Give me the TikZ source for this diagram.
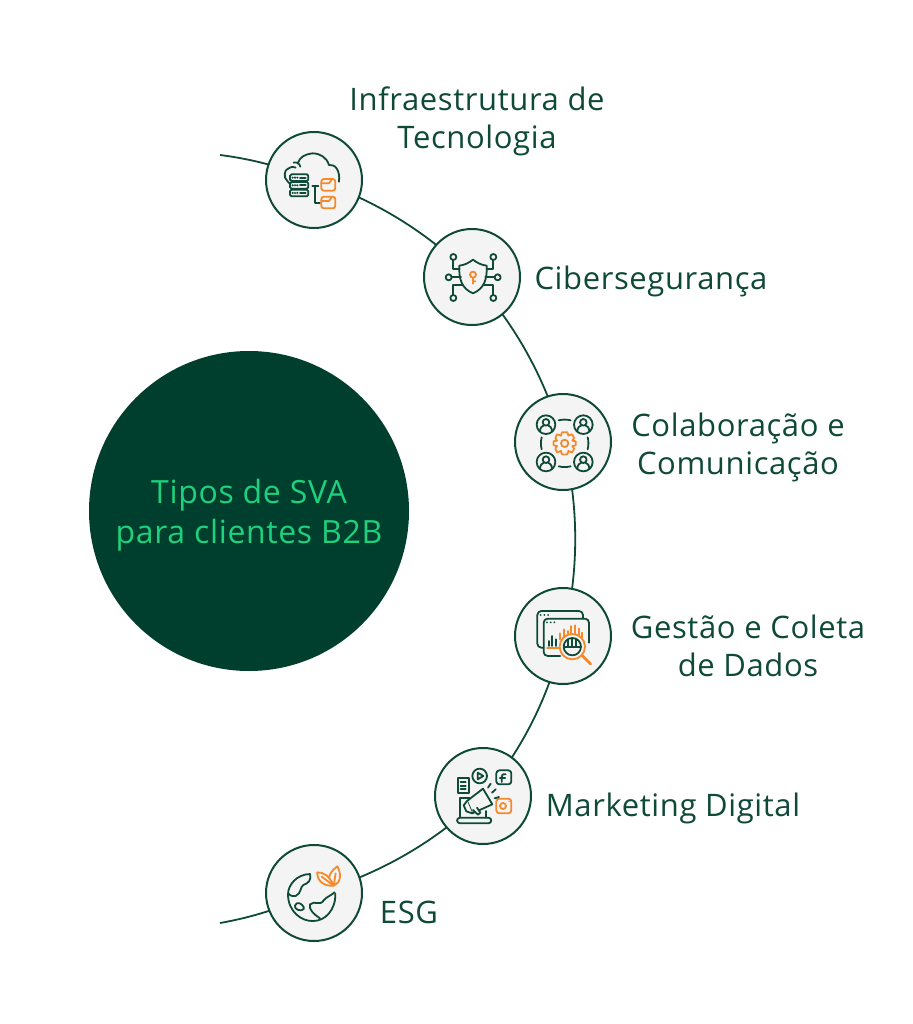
\documentclass[tikz,border=0pt]{standalone}
\usepackage{fontspec}
\usetikzlibrary{backgrounds}
\setmainfont{Open Sans}[LetterSpace=2]
\definecolor{dk}{HTML}{0F4A38}
\definecolor{hub}{HTML}{003F2E}
\definecolor{mint}{HTML}{1FD07C}
\definecolor{org}{HTML}{F58A2C}
\definecolor{pale}{HTML}{F4F4F4}
\tikzset{
 stop/.style={circle,draw=dk,fill=pale,line width=2pt,minimum size=96pt,inner sep=0pt},
 lab/.style={text=dk,font=\fontsize{31}{38}\selectfont,align=center,inner sep=0pt},
 link/.style={draw=dk,line width=1.8pt,looseness=0.86},
 ic/.style={draw=dk,line width=1.8pt,line cap=round,line join=round},
 io/.style={draw=org,line width=1.8pt,line cap=round,line join=round},
}
\begin{document}
\begin{tikzpicture}[x=1pt,y=-1pt]
\useasboundingbox (0,0) rectangle (912,1024);
\node[circle,fill=hub,minimum size=320pt,inner sep=0pt] (hubn) at (249,511) {};
\node[text=mint,font=\fontsize{32}{40}\selectfont,align=center,inner sep=0pt] (hubt) at (249,515) {Tipos de SVA\\para clientes B2B};
\coordinate (s) at (220,155);
\coordinate (t) at (220,923);
\node[stop] (a) at (314,180) {};
\node[stop] (b) at (472,277) {};
\node[stop] (c) at (563,442) {};
\node[stop] (d) at (563,636) {};
\node[stop] (e) at (483,796) {};
\node[stop] (f) at (314,893) {};
\begin{scope}[on background layer]
\fill[white] (0,0) rectangle (912,1024);
\draw[link] (s) to[bend left=7.7] (a.center);
\draw[link] (a.center) to[bend left=14] (b.center);
\draw[link] (b.center) to[bend left=14] (c.center);
\draw[link] (c.center) to[bend left=14.5] (d.center);
\draw[link] (d.center) to[bend left=14] (e.center);
\draw[link] (e.center) to[bend left=14.5] (f.center);
\draw[link] (f.center) to[bend left=7.7] (t);
\end{scope}
\node[lab] (la) at (477,121) {Infraestrutura de\\Tecnologia};
\node[lab] (lb) at (651,281) {Cibersegurança};
\node[lab] (lc) at (738,447) {Colaboração e\\Comunicação};
\node[lab] (ld) at (748,646) {Gestão e Coleta\\de Dados};
\node[lab] (le) at (673,808) {Marketing Digital};
\node[lab] (lf) at (409,912) {ESG};
% icon 1
\begin{scope}[shift={(255,120)},x=0.3333pt,y=-0.3333pt]
\draw[ic] plot[smooth] coordinates {(103,190)(90,172)(92,152)(110,141)(122,143)};
\draw[ic] (128,130) .. controls (135,110) and (150,103) .. (172,100) .. controls (195,100) and (215,112) .. (222,135) .. controls (240,132) and (256,150) .. (252,185);
\draw[ic] (116,128) .. controls (125,125) and (133,130) .. (136,140);
\foreach \y in {163,186,209}{
 \draw[ic,rounded corners=1.5pt] (105,\y) rectangle +(55,20);
 \foreach \x in {113,120,127}{\fill[dk] (\x,\y+10) circle (3.5);}
 \draw[ic] (135,\y+10) -- (152,\y+10);
}
\draw[ic] (172,197) -- (190,197) (180,197) -- (180,250) -- (195,250);
\draw[io,rounded corners=2.5pt] (199,177) rectangle (241,212);
\draw[io] (199,190) -- (222,190) -- (230,179);
\draw[io,rounded corners=2.5pt] (199,230) rectangle (241,265);
\draw[io] (199,243) -- (222,243) -- (230,232);
\end{scope}
% icon 2
\begin{scope}[shift={(412,218)},x=0.3333pt,y=-0.3333pt]
\draw[ic] (183,125) .. controls (170,135) and (158,141) .. (142,143) .. controls (140,185) and (150,212) .. (183,226) .. controls (216,212) and (226,185) .. (224,143) .. controls (208,141) and (196,135) .. (183,125) -- cycle;
\foreach \p in {(124,117),(244,117),(110,178),(257,178),(124,240),(244,240)}{\draw[ic] \p circle (9);}
\draw[ic] (124,126) -- (124,152) -- (143,152) (244,126) -- (244,152) -- (224,152);
\draw[ic] (119,178) -- (147,178) (248,178) -- (220,178);
\draw[ic] (124,231) -- (124,200) -- (152,200) (244,231) -- (244,200) -- (215,200);
\draw[io] (183,170) circle (9) (183,179) -- (183,197) (183,190) -- (190,190);
\end{scope}
% icon 3
\begin{scope}[shift={(503,383)},x=0.3333pt,y=-0.3333pt]
\foreach \u/\v in {129/125,241/125,129/237,241/237}{
 \draw[ic] (\u,\v) circle (28);
 \draw[ic] (\u,\v-7) circle (10);
 \draw[ic] (\u-18,\v+20) .. controls (\u-18,\v+8) and (\u-10,\v+3) .. (\u-6,\v+2) (\u+18,\v+20) .. controls (\u+18,\v+8) and (\u+10,\v+3) .. (\u+6,\v+2);
}
\draw[ic] (167,112) .. controls (180,109) and (190,109) .. (203,112) (167,250) .. controls (180,253) and (190,253) .. (203,250) (116,163) .. controls (113,175) and (113,187) .. (116,199) (254,163) .. controls (257,175) and (257,187) .. (254,199);
\draw[io] (185,181) circle (11);
\draw[io] plot[smooth cycle,tension=0.25] coordinates {(177,148)(193,148)(196,158)(207,154)(213,165)(208,173)(218,175)(218,187)(208,189)(213,197)(207,208)(196,204)(193,214)(177,214)(174,204)(163,208)(157,197)(162,189)(152,187)(152,175)(162,173)(157,165)(163,154)(174,158)};
\end{scope}
% icon 4
\begin{scope}[shift={(503,576)},x=0.3333pt,y=-0.3333pt]
\draw[ic,rounded corners=4pt] (122,215) -- (103,215) -- (103,105) -- (240,105) -- (240,128);
\draw[ic,rounded corners=4pt] (172,240) -- (122,240) -- (122,128) -- (258,128) -- (258,200);
\foreach \x in {113,124,135}{\fill[dk] (\x,117) circle (3);}
\foreach \x in {132,143,154}{\fill[dk] (\x,139) circle (3);}
\draw[ic] (137,195) -- (137,210) (148,180) -- (148,210) (160,190) -- (160,210);
\draw[io] (132,216) -- (170,216);
\foreach \x/\y in {172/172,183/160,194/165,205/150,216/148,227/158,238/170}{\draw[io] (\x,\y) -- (\x,190);}
\draw[io,fill=pale] (208,212) circle (38);
\draw[ic] (208,212) circle (26);
\draw[ic] (183,212) -- (233,212) (196,190) -- (196,212) (208,187) -- (208,212) (220,190) -- (220,212);
\draw[io,line width=2.8pt] (237,238) -- (263,264);
\end{scope}
% icon 5
\begin{scope}[shift={(423,736)},x=0.3333pt,y=-0.3333pt]
\draw[ic] (104,127) rectangle (137,172);
\draw[ic] (113,138) -- (128,138) (113,149) -- (128,149) (113,160) -- (128,160);
\draw[ic] (170,120) circle (22);
\draw[ic] (164,110) -- (164,130) -- (181,120) -- cycle;
\draw[ic,rounded corners=3pt] (220,103) rectangle (265,145);
\draw[ic] (248,115) .. controls (238,113) and (236,118) .. (236,124) -- (236,138) (230,126) -- (247,126);
\draw[io,rounded corners=3pt] (220,188) rectangle (265,232);
\draw[io] (240,210) circle (9);
\fill[org] (258,196) circle (2.5);
\draw[ic] (140,185) -- (112,185) -- (112,245) (190,225) -- (190,245);
\draw[ic,rounded corners=3pt] (102,245) rectangle (205,262);
\draw[ic,fill=pale] (132,195) -- (180,158) -- (208,205) -- (148,232) -- cycle;
\draw[ic,fill=pale] (132,195) -- (122,208) -- (130,226) -- (148,232);
\draw[ic,fill=pale] (150,222) -- (165,236) -- (172,230) -- (162,215);
\draw[ic] (195,155) -- (203,143) (207,170) -- (218,160) (215,187) -- (228,183);
\end{scope}
% icon 6
\begin{scope}[shift={(255,835)},x=0.3333pt,y=-0.3333pt]
\draw[ic] (165,117) .. controls (125,118) and (98,150) .. (99,180) .. controls (100,230) and (140,260) .. (175,258) .. controls (210,258) and (243,225) .. (241,175);
\draw[ic] (165,117) .. controls (170,135) and (160,145) .. (145,150) .. controls (135,155) and (140,175) .. (122,183) .. controls (110,185) and (103,180) .. (99,175);
\draw[ic] (125,205) .. controls (135,200) and (150,215) .. (146,222) .. controls (140,232) and (115,222) .. (120,212) -- cycle;
\draw[ic] (195,250) .. controls (180,240) and (160,225) .. (165,208) .. controls (180,195) and (195,215) .. (207,195) .. controls (215,185) and (232,180) .. (238,172);
\draw[io] (236,152) .. controls (222,120) and (205,112) .. (187,112) .. controls (185,135) and (205,155) .. (236,152) -- (200,125);
\draw[io] (236,152) .. controls (255,145) and (262,120) .. (247,94) .. controls (232,105) and (225,115) .. (222,128) (236,152) -- (242,115);
\end{scope}
\end{tikzpicture}
\end{document}
